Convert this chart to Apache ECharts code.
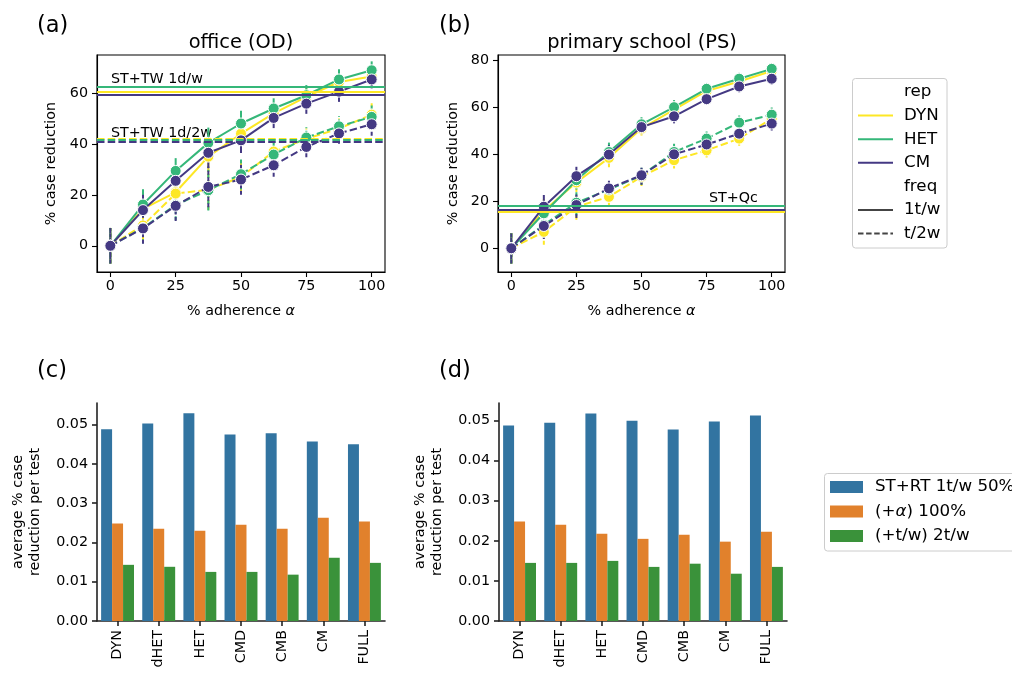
<!DOCTYPE html>
<html><head><meta charset="utf-8">
<script src="https://cdn.jsdelivr.net/npm/echarts@6/dist/echarts.min.js"></script>
<style>html,body{margin:0;padding:0;background:#fff}#c{width:1012px;height:673px}</style>
</head><body><div id="c"></div>
<script>
// ---------- data ----------
const adherence = [0, 12.5, 25, 37.5, 50, 62.5, 75, 87.5, 100];
const xTicks = [0, 25, 50, 75, 100];
const yTicksA = [0, 20, 40, 60];
const yTicksB = [0, 20, 40, 60, 80];
const yTicksBar = [0, 0.01, 0.02, 0.03, 0.04, 0.05];

// panel (a) office
const a_DYN_1tw = [0, 14.5, 21, 35, 44, 52, 58.5, 64.3, 66.5];
const a_HET_1tw = [0, 16.2, 29.4, 40.4, 48, 53.9, 59.1, 65.3, 68.9];
const a_CM_1tw  = [0, 14, 25.5, 36.5, 41.4, 50.2, 55.8, 60.5, 65.3];
const a_DYN_t2w = [0, 8, 20.5, 22, 27, 37, 42, 46, 51.5];
const a_HET_t2w = [0, 7, 16, 21.8, 28.1, 35.8, 42.5, 46.9, 50.6];
const a_CM_t2w  = [0, 6.8, 15.7, 23.1, 26, 31.6, 38.8, 44.1, 47.7];
const a_err_1tw = [7, 6, 5, 6, 5, 4, 4, 4, 3.5];
const a_err_t2w = [7, 6, 6, 8, 6, 4.5, 4, 4, 4.5];
const a_ref_1tw = {DYN: 60.4, HET: 62.6, CM: 59.4};
const a_ref_t2w = {DYN: 42.2, HET: 41.7, CM: 41.0};

// panel (b) primary school
const b_DYN_1tw = [0, 16, 28, 38.5, 51, 59, 67, 71, 75.5];
const b_HET_1tw = [0, 14.9, 29, 41, 52.8, 60.1, 67.9, 72.2, 76.4];
const b_CM_1tw  = [0, 17.7, 30.7, 39.9, 51.6, 56.2, 63.5, 68.9, 72.2];
const b_DYN_t2w = [0, 7, 17.7, 21.9, 30.5, 37.5, 41.7, 46.7, 55.2];
const b_HET_t2w = [0, 10, 19.4, 25, 31, 41, 46.7, 53.5, 56.9];
const b_CM_t2w  = [0, 9.5, 18.4, 25.5, 31.1, 40, 44.2, 48.8, 53.1];
const b_err_1tw = [6.5, 5, 4, 4, 3, 3, 2.5, 2.5, 2.5];
const b_err_t2w = [6.5, 5.5, 5.5, 4, 4, 3.5, 3, 3, 3];
const b_ref = {DYN: 15.6, HET: 18.0, CM: 16.6};

// panels (c),(d)
const barCats = ['DYN', 'dHET', 'HET', 'CMD', 'CMB', 'CM', 'FULL'];
const c_base  = [0.0488, 0.0503, 0.0529, 0.0475, 0.0478, 0.0457, 0.0450];
const c_alpha = [0.0248, 0.0235, 0.0230, 0.0245, 0.0235, 0.0263, 0.0253];
const c_freq  = [0.0143, 0.0138, 0.0125, 0.0125, 0.0118, 0.0161, 0.0148];
const d_base  = [0.0488, 0.0495, 0.0518, 0.0500, 0.0478, 0.0498, 0.0513];
const d_alpha = [0.0248, 0.0240, 0.0218, 0.0205, 0.0215, 0.0198, 0.0223];
const d_freq  = [0.0145, 0.0145, 0.0150, 0.0135, 0.0143, 0.0118, 0.0135];

// ---------- styles ----------
const FONT = 'DejaVu Sans';
const COL = {DYN: '#fde725', HET: '#35b779', CM: '#443983'};
const BARCOL = ['#3274a1', '#e1812c', '#3a923a'];
const DASH = [7.5, 3.2];
const TXT = '#000';
const FS = 14.3;   // tick / axis label size
const LFS = 16.7;  // legend text size

const chart = echarts.init(document.getElementById('c'), null, {renderer: 'canvas'});

function pts(ys) { return adherence.map((x, i) => [x, ys[i]]); }
function ptsErr(ys, es) { return adherence.map((x, i) => [x, ys[i], es[i]]); }

function lineSeries(idx, ys, color, dashed, z) {
  return {
    type: 'line', xAxisIndex: idx, yAxisIndex: idx, data: pts(ys),
    symbol: 'circle', symbolSize: 11, showSymbol: true,
    itemStyle: {color: color, borderColor: '#fff', borderWidth: 1},
    lineStyle: {color: color, width: 2, type: dashed ? DASH : 'solid'},
    z: z, animation: false, emphasis: {disabled: true}, silent: true
  };
}
function errSeries(idx, ys, es, color, dashed, z) {
  return {
    type: 'custom', xAxisIndex: idx, yAxisIndex: idx, data: ptsErr(ys, es),
    encode: {x: 0, y: 1}, z: z, silent: true, animation: false,
    renderItem: function (params, api) {
      const x = api.value(0), y = api.value(1), e = api.value(2);
      const p1 = api.coord([x, y - e]), p2 = api.coord([x, y + e]);
      return {type: 'line', shape: {x1: p1[0], y1: p1[1], x2: p2[0], y2: p2[1]},
        style: {stroke: color, lineWidth: 2, lineDash: dashed ? [4, 2.5] : null}};
    }
  };
}
function hline(idx, value, color, dashed, z) {
  return {
    type: 'line', xAxisIndex: idx, yAxisIndex: idx, data: [], z: z || 1, silent: true,
    markLine: {silent: true, symbol: 'none', animation: false, label: {show: false},
      lineStyle: {color: color, width: 2, type: dashed ? DASH : 'solid', opacity: 1},
      emphasis: {disabled: true}, data: [{yAxis: value}]}
  };
}

function lineXAxis(idx) {
  return {
    gridIndex: idx, type: 'value', min: -5.1, max: 105.1,
    axisLine: {show: true, onZero: false, lineStyle: {color: '#000', width: 1.1}},
    axisTick: {show: true, length: 5, customValues: xTicks, lineStyle: {color: '#000', width: 1.1}},
    axisLabel: {customValues: xTicks, fontSize: FS, color: TXT, fontFamily: FONT, margin: 7},
    splitLine: {show: false},
    name: '% adherence {i|α}', nameLocation: 'middle', nameGap: 32,
    nameTextStyle: {fontSize: FS, color: TXT, fontFamily: FONT,
      rich: {i: {fontStyle: 'italic', fontSize: FS, fontFamily: FONT, color: TXT}}}
  };
}
function lineYAxis(idx, min, max, ticks, gap) {
  return {
    gridIndex: idx, type: 'value', min: min, max: max,
    axisLine: {show: true, onZero: false, lineStyle: {color: '#000', width: 1.1}},
    axisTick: {show: true, length: 5, customValues: ticks, lineStyle: {color: '#000', width: 1.1}},
    axisLabel: {customValues: ticks, fontSize: FS, color: TXT, fontFamily: FONT, margin: 9},
    splitLine: {show: false},
    name: '% case reduction', nameLocation: 'middle', nameGap: gap, nameRotate: 90,
    nameTextStyle: {fontSize: FS, color: TXT, fontFamily: FONT}
  };
}
function barXAxis(idx) {
  return {
    gridIndex: idx, type: 'category', data: barCats, boundaryGap: true,
    axisLine: {show: true, onZero: false, lineStyle: {color: '#222', width: 1.6}},
    axisTick: {show: true, alignWithLabel: true, length: 5, lineStyle: {color: '#222', width: 1.6}},
    axisLabel: {rotate: 90, fontSize: FS, color: TXT, fontFamily: FONT, margin: 9, interval: 0},
    splitLine: {show: false}
  };
}
function barYAxis(idx, max) {
  return {
    gridIndex: idx, type: 'value', min: 0, max: max,
    axisLine: {show: true, onZero: false, lineStyle: {color: '#222', width: 1.6}},
    axisTick: {show: true, length: 5, customValues: yTicksBar, lineStyle: {color: '#222', width: 1.6}},
    axisLabel: {customValues: yTicksBar, fontSize: FS, color: TXT, fontFamily: FONT, margin: 9,
      formatter: v => Number(v).toFixed(2)},
    splitLine: {show: false},
    name: 'average % case\nreduction per test', nameLocation: 'middle', nameGap: 53, nameRotate: 90,
    nameTextStyle: {fontSize: FS, color: TXT, fontFamily: FONT, lineHeight: 17}
  };
}
function barSeries(idx, data, color) {
  return {type: 'bar', xAxisIndex: idx, yAxisIndex: idx, data: data,
    itemStyle: {color: color}, barGap: '0%', barCategoryGap: '20%',
    silent: true, animation: false};
}

const series = [];
// panel a
series.push(hline(0, a_ref_1tw.HET, COL.HET, false));
series.push(hline(0, a_ref_1tw.DYN, COL.DYN, false));
series.push(hline(0, a_ref_1tw.CM, COL.CM, false));
series.push(hline(0, a_ref_t2w.DYN, COL.DYN, true));
series.push(hline(0, a_ref_t2w.HET, COL.HET, true));
series.push(hline(0, a_ref_t2w.CM, COL.CM, true));
[[a_DYN_1tw, 'DYN', false, a_err_1tw], [a_HET_1tw, 'HET', false, a_err_1tw], [a_CM_1tw, 'CM', false, a_err_1tw],
 [a_DYN_t2w, 'DYN', true, a_err_t2w], [a_HET_t2w, 'HET', true, a_err_t2w], [a_CM_t2w, 'CM', true, a_err_t2w]]
 .forEach((s, k) => {
   series.push(errSeries(0, s[0], s[3], COL[s[1]], s[2], 2 + k * 0.01));
   series.push(lineSeries(0, s[0], COL[s[1]], s[2], 3 + k * 0.01));
 });
// panel b
series.push(hline(1, b_ref.HET, COL.HET, false, 1));
series.push(hline(1, b_ref.DYN, COL.DYN, false, 1.1));
series.push(hline(1, b_ref.CM, COL.CM, false, 1.2));
[[b_DYN_1tw, 'DYN', false, b_err_1tw], [b_HET_1tw, 'HET', false, b_err_1tw], [b_CM_1tw, 'CM', false, b_err_1tw],
 [b_DYN_t2w, 'DYN', true, b_err_t2w], [b_HET_t2w, 'HET', true, b_err_t2w], [b_CM_t2w, 'CM', true, b_err_t2w]]
 .forEach((s, k) => {
   series.push(errSeries(1, s[0], s[3], COL[s[1]], s[2], 2 + k * 0.01));
   series.push(lineSeries(1, s[0], COL[s[1]], s[2], 3 + k * 0.01));
 });
// panels c, d
series.push(barSeries(2, c_base, BARCOL[0]));
series.push(barSeries(2, c_alpha, BARCOL[1]));
series.push(barSeries(2, c_freq, BARCOL[2]));
series.push(barSeries(3, d_base, BARCOL[0]));
series.push(barSeries(3, d_alpha, BARCOL[1]));
series.push(barSeries(3, d_freq, BARCOL[2]));

function txt(x, y, text, size, align, extra) {
  return Object.assign({type: 'text', x: x, y: y, silent: true,
    style: {text: text, fontSize: size, fontFamily: FONT, fill: TXT,
      align: align || 'left', verticalAlign: 'middle',
      textAlign: align || 'left', textVerticalAlign: 'middle'}}, extra || {});
}
function lgLine(x1, x2, y, color, dashed) {
  return {type: 'line', silent: true, shape: {x1: x1, y1: y, x2: x2, y2: y},
    style: {stroke: color, lineWidth: 2, lineDash: dashed ? [5.5, 2.6] : null}};
}

const legendRows = [92, 115.6, 139.2, 162.8, 186.4, 210, 233.6];
const Z = {z: 11};
const graphic = [
  // panel letters and titles
  txt(37, 26, '(a)', 22.5),
  txt(439, 26, '(b)', 22.5),
  txt(37, 371, '(c)', 22.5),
  txt(439, 371, '(d)', 22.5),
  txt(241, 42.5, 'office (OD)', 19.4, 'center'),
  txt(642, 42.5, 'primary school (PS)', 19.4, 'center'),
  // annotations
  txt(111, 79, 'ST+TW 1d/w', FS),
  txt(111, 133, 'ST+TW 1d/2w', FS),
  txt(709, 198.5, 'ST+Qc', FS),
  // legend 1
  {type: 'rect', silent: true, shape: {x: 852.5, y: 78.5, width: 94.5, height: 169.5, r: 3},
    style: {fill: 'rgba(255,255,255,0.8)', stroke: '#cccccc', lineWidth: 1}, z: 10},
  Object.assign(txt(904, legendRows[0], 'rep', LFS), Z),
  Object.assign(lgLine(858, 893, legendRows[1], COL.DYN, false), Z),
  Object.assign(txt(904, legendRows[1], 'DYN', LFS), Z),
  Object.assign(lgLine(858, 893, legendRows[2], COL.HET, false), Z),
  Object.assign(txt(904, legendRows[2], 'HET', LFS), Z),
  Object.assign(lgLine(858, 893, legendRows[3], COL.CM, false), Z),
  Object.assign(txt(904, legendRows[3], 'CM', LFS), Z),
  Object.assign(txt(904, legendRows[4], 'freq', LFS), Z),
  Object.assign(lgLine(858, 893, legendRows[5], '#444', false), Z),
  Object.assign(txt(904, legendRows[5], '1t/w', LFS), Z),
  Object.assign(lgLine(858, 893, legendRows[6], '#444', true), Z),
  Object.assign(txt(904, legendRows[6], 't/2w', LFS), Z),
  // legend 2
  {type: 'rect', silent: true, shape: {x: 824.5, y: 473.5, width: 200, height: 77.5, r: 3},
    style: {fill: 'rgba(255,255,255,0.8)', stroke: '#cccccc', lineWidth: 1}, z: 10},
  {type: 'rect', silent: true, shape: {x: 830, y: 481, width: 33, height: 12}, style: {fill: BARCOL[0]}, z: 11},
  {type: 'rect', silent: true, shape: {x: 830, y: 505.5, width: 33, height: 12}, style: {fill: BARCOL[1]}, z: 11},
  {type: 'rect', silent: true, shape: {x: 830, y: 530, width: 33, height: 12}, style: {fill: BARCOL[2]}, z: 11},
  Object.assign(txt(875, 487, 'ST+RT 1t/w 50%', LFS), Z),
  {type: 'text', x: 875, y: 511.5, z: 11, silent: true,
    style: {text: '(+{i|α}) 100%', fontSize: LFS, fontFamily: FONT, fill: TXT,
      align: 'left', verticalAlign: 'middle', textAlign: 'left', textVerticalAlign: 'middle',
      rich: {i: {fontStyle: 'italic', fontSize: LFS, fontFamily: FONT, fill: TXT}}}},
  Object.assign(txt(875, 536, '(+t/w) 2t/w', LFS), Z)
];

chart.setOption({
  animation: false,
  backgroundColor: '#fff',
  textStyle: {fontFamily: FONT},
  grid: [
    {left: 97, top: 55, width: 288, height: 217, show: true, borderColor: '#000', borderWidth: 1.1, backgroundColor: 'transparent'},
    {left: 498, top: 55, width: 287, height: 217, show: true, borderColor: '#000', borderWidth: 1.1, backgroundColor: 'transparent'},
    {left: 97, top: 403, width: 288, height: 218},
    {left: 499, top: 403, width: 288, height: 218}
  ],
  xAxis: [lineXAxis(0), lineXAxis(1), barXAxis(2), barXAxis(3)],
  yAxis: [lineYAxis(0, -10.3, 74.9, yTicksA, 39), lineYAxis(1, -10.1, 82.3, yTicksB, 38),
          barYAxis(2, 0.0555), barYAxis(3, 0.0544)],
  series: series,
  graphic: graphic
});
</script></body></html>
